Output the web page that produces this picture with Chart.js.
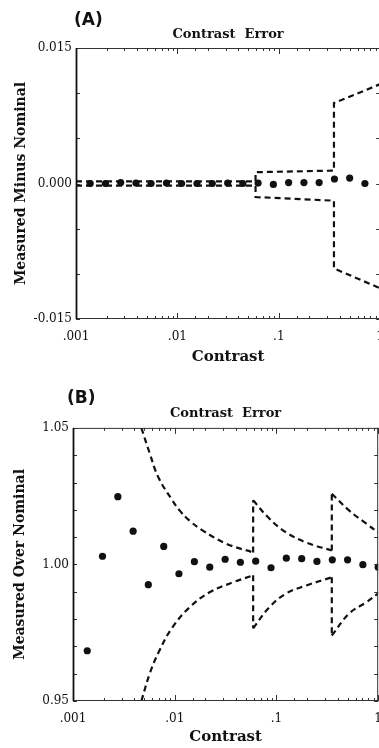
<!DOCTYPE html>
<html>
<head>
<meta charset="utf-8">
<script src="https://cdn.jsdelivr.net/npm/chart.js@4.4.0/dist/chart.umd.min.js"></script>
<style>
  html, body { margin: 0; padding: 0; background: #fff; overflow: hidden; width: 379px; height: 748px; }
  .panel { position: absolute; left: 0; }
  .tag { position: absolute; font: bold 17px "DejaVu Sans", sans-serif; line-height: 20px; color: #111; }
</style>
</head>
<body>
<canvas id="chart-a" class="panel" width="395" height="372" style="top:0"></canvas>
<canvas id="chart-b" class="panel" width="393" height="376" style="top:372px"></canvas>
<div class="tag" style="left:74px; top:9px">(A)</div>
<div class="tag" style="left:67px; top:387px">(B)</div>
<script>
// contrast levels of the measured points (shared by both panels)
const contrast = [0.00138, 0.00195, 0.00276, 0.0039, 0.0055, 0.0078, 0.011, 0.0156, 0.0221, 0.0313,
                  0.0442, 0.0625, 0.0884, 0.125, 0.177, 0.25, 0.354, 0.5, 0.707, 1.0];

// (A) measured minus nominal
const diffA = [0, 0, 0.0001, 0.00005, 0, 0.00005, 0, 0, 0, 0.00005,
               0, 0.00005, -0.0001, 0.0001, 0.0001, 0.0001, 0.0005, 0.0006, 0, null];
// (A) error band, straight segments
const bandAx = [0.001, 0.059, 0.059, 0.35, 0.35, 1.0];
const bandAUpper = [0.00024, 0.00024, 0.00125, 0.00143, 0.0089, 0.0110];
const bandALower = [-0.00024, -0.00024, -0.0015, -0.0019, -0.0094, -0.0116];

// (B) measured over nominal
const ratioB = [0.9684, 1.003, 1.0248, 1.0122, 0.9926, 1.0066, 0.9966, 1.001, 0.999, 1.0019,
                1.0008, 1.0012, 0.9988, 1.0023, 1.0021, 1.0011, 1.0017, 1.0017, 0.9999, 0.999];
// (B) error band, three smooth pieces on each side
const upB1x = [0.0047, 0.0057, 0.0069, 0.0095, 0.0112, 0.014, 0.0189, 0.0321, 0.059];
const upB1 = [1.05, 1.0405, 1.0319, 1.0234, 1.0197, 1.016, 1.0124, 1.0076, 1.0044];
const loB1x = [0.0047, 0.0057, 0.0071, 0.0095, 0.014, 0.022, 0.037, 0.059];
const loB1 = [0.95, 0.9602, 0.9686, 0.977, 0.9843, 0.9898, 0.9934, 0.996];
const segB2x = [0.059, 0.085, 0.125, 0.197, 0.35];
const upB2 = [1.0235, 1.0168, 1.0117, 1.008, 1.0051];
const loB2 = [0.9766, 0.9843, 0.9894, 0.9923, 0.9953];
const segB3x = [0.35, 0.52, 0.76, 1.0];
const upB3 = [1.0259, 1.0197, 1.015, 1.0117];
const loB3 = [0.974, 0.9821, 0.9861, 0.9894];

// tick labels
const xTickValues = [0.001, 0.01, 0.1, 1];
const xTickLabels = ['.001', '.01', '.1', '1'];
const yTickValuesA = [-0.015, 0, 0.015];
const yTickLabelsA = ['-0.015', '0.000', '0.015'];
const yTickValuesB = [0.95, 1.0, 1.05];
const yTickLabelsB = ['0.95', '1.00', '1.05'];

const INK = '#111';
const SERIF = '"DejaVu Serif", serif';

Chart.defaults.color = INK;
Chart.defaults.font.family = SERIF;

const pts = (xs, ys) => xs.map((x, i) => ({ x: x, y: ys[i] })).filter(p => p.y !== null);
const first = (xs, ys) => ({ x: xs[0], y: ys[0] });
const last = (xs, ys) => ({ x: xs[xs.length - 1], y: ys[ys.length - 1] });
const labelFor = (values, labels) => v => {
    const i = values.findIndex(t => Math.abs(t - v) < 1e-6);
    return i >= 0 ? labels[i] : '';
};
const isDecade = v => Math.abs(Math.log10(v) - Math.round(Math.log10(v))) < 1e-6;

const dashed = (data, tension) => ({
    data: data,
    borderColor: INK,
    borderWidth: 2.2,
    borderDash: [6, 4],
    pointRadius: 0,
    fill: false,
    tension: tension || 0
});

const dots = data => ({
    data: data,
    showLine: false,
    pointRadius: 3.6,
    pointBackgroundColor: INK,
    pointBorderWidth: 0
});

// frame with inward tick marks, like the original plot
const frame = {
    id: 'frame',
    afterDatasetsDraw(chart) {
        const { ctx, chartArea: a, scales: { x, y } } = chart;
        ctx.save();
        ctx.strokeStyle = '#333';
        ctx.lineWidth = 1;
        ctx.beginPath();
        ctx.moveTo(a.left, a.top + 0.5);
        ctx.lineTo(a.right, a.top + 0.5);
        ctx.moveTo(a.left, a.bottom - 0.5);
        ctx.lineTo(a.right, a.bottom - 0.5);
        ctx.moveTo(a.right - 0.5, a.top);
        ctx.lineTo(a.right - 0.5, a.bottom);
        x.ticks.forEach(t => {
            const px = Math.round(x.getPixelForValue(t.value)) + 0.5;
            const len = isDecade(t.value) ? 6 : 3;
            ctx.moveTo(px, a.top);
            ctx.lineTo(px, a.top + len);
            ctx.moveTo(px, a.bottom);
            ctx.lineTo(px, a.bottom - len);
        });
        y.ticks.forEach(t => {
            const py = Math.round(y.getPixelForValue(t.value)) + 0.5;
            ctx.moveTo(a.left, py);
            ctx.lineTo(a.left + 4, py);
            ctx.moveTo(a.right, py);
            ctx.lineTo(a.right - 4, py);
        });
        ctx.stroke();
        ctx.strokeStyle = INK;
        ctx.lineWidth = 1.8;
        ctx.beginPath();
        ctx.moveTo(a.left + 0.5, a.top);
        ctx.lineTo(a.left + 0.5, a.bottom);
        ctx.stroke();
        ctx.restore();
    }
};

function makeOptions(cfg) {
    return {
        responsive: false,
        animation: false,
        layout: { padding: { left: 0, right: 8, top: cfg.padTop, bottom: 0 } },
        plugins: {
            legend: { display: false },
            tooltip: { enabled: false },
            title: {
                display: true,
                fullSize: false,
                text: 'Contrast  Error',
                color: INK,
                font: { family: SERIF, size: 13, weight: 'bold' },
                padding: { top: 0, bottom: 6 }
            }
        },
        scales: {
            x: {
                type: 'logarithmic',
                min: 0.001,
                max: 1,
                grid: { display: false, drawTicks: false },
                border: { display: false },
                ticks: {
                    autoSkip: false,
                    maxRotation: 0,
                    padding: 11,
                    font: { family: SERIF, size: 12 },
                    callback: labelFor(xTickValues, xTickLabels)
                },
                title: {
                    display: true,
                    text: 'Contrast',
                    font: { family: SERIF, size: 15, weight: 'bold' },
                    padding: { top: 0, bottom: cfg.xTitlePad }
                },
                afterFit: s => { s.height = cfg.xHeight; }
            },
            y: {
                min: cfg.yMin,
                max: cfg.yMax,
                grid: { display: false, drawTicks: false },
                border: { display: false },
                ticks: {
                    stepSize: cfg.yStep,
                    autoSkip: false,
                    padding: 4,
                    font: { family: SERIF, size: 12 },
                    callback: labelFor(cfg.yValues, cfg.yLabels)
                },
                title: {
                    display: true,
                    text: cfg.yTitle,
                    font: { family: SERIF, size: 14, weight: 'bold' },
                    padding: { top: cfg.yTitlePad, bottom: 0 }
                },
                afterFit: s => { s.width = cfg.left; }
            }
        }
    };
}

// Panel (A)
new Chart(document.getElementById('chart-a').getContext('2d'), {
    type: 'line',
    data: {
        datasets: [
            dashed(pts(bandAx, bandAUpper)),
            dashed(pts(bandAx, bandALower)),
            dots(pts(contrast, diffA))
        ]
    },
    options: makeOptions({
        padTop: 26.4, xHeight: 53, xTitlePad: 6, left: 76,
        yMin: -0.015, yMax: 0.015, yStep: 0.005,
        yValues: yTickValuesA, yLabels: yTickLabelsA,
        yTitle: 'Measured Minus Nominal', yTitlePad: 12.6
    }),
    plugins: [frame]
});

// Panel (B)
new Chart(document.getElementById('chart-b').getContext('2d'), {
    type: 'line',
    data: {
        datasets: [
            dashed(pts(upB1x, upB1), 0.4),
            dashed(pts(segB2x, upB2), 0.4),
            dashed(pts(segB3x, upB3), 0.4),
            dashed(pts(loB1x, loB1), 0.4),
            dashed(pts(segB2x, loB2), 0.4),
            dashed(pts(segB3x, loB3), 0.4),
            // vertical steps where the band jumps
            dashed([last(upB1x, upB1), first(segB2x, upB2)]),
            dashed([last(segB2x, upB2), first(segB3x, upB3)]),
            dashed([last(loB1x, loB1), first(segB2x, loB2)]),
            dashed([last(segB2x, loB2), first(segB3x, loB3)]),
            dots(pts(contrast, ratioB))
        ]
    },
    options: makeOptions({
        padTop: 34.3, xHeight: 47, xTitlePad: 2, left: 73,
        yMin: 0.95, yMax: 1.05, yStep: 0.01,
        yValues: yTickValuesB, yLabels: yTickLabelsB,
        yTitle: 'Measured Over Nominal', yTitlePad: 11.6
    }),
    plugins: [frame]
});
</script>
</body>
</html>
